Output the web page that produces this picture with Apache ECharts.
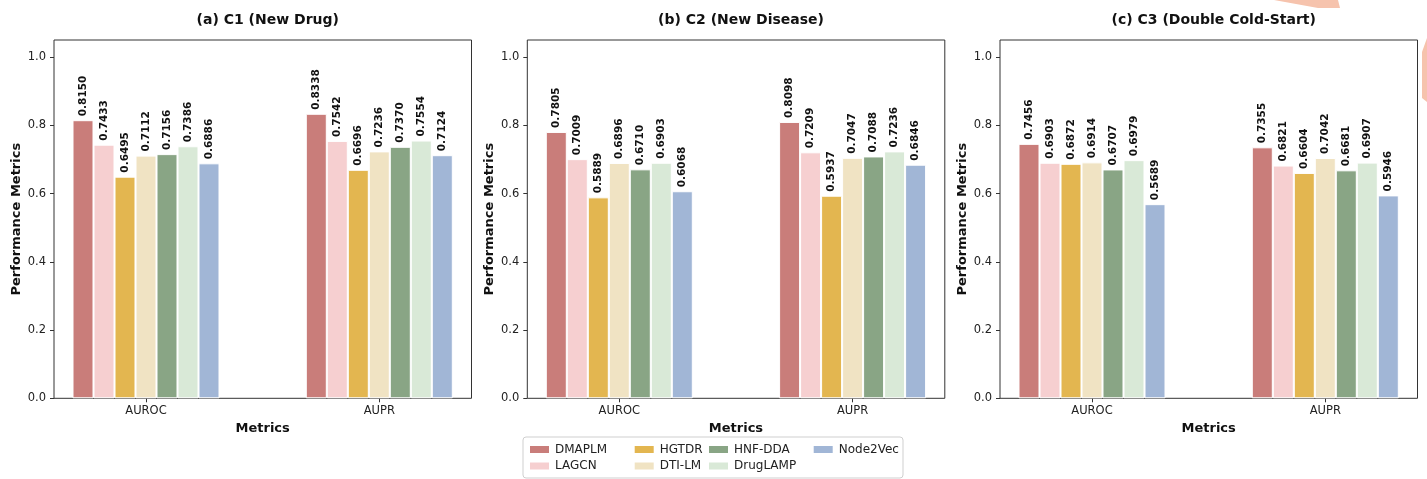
<!DOCTYPE html>
<html>
<head>
<meta charset="utf-8">
<script src="https://cdn.jsdelivr.net/npm/echarts@6/dist/echarts.min.js"></script>
<style>
html,body{margin:0;padding:0;background:#fff;}
#chart{width:1427px;height:479px;}
</style>
</head>
<body>
<div id="chart"></div>
<script>
// ---- data ----
const categories = ['AUROC', 'AUPR'];
const models = ['DMAPLM', 'LAGCN', 'HGTDR', 'DTI-LM', 'HNF-DDA', 'DrugLAMP', 'Node2Vec'];
const colors = ['#c97d7a', '#f6cfd0', '#e3b650', '#f0e3c3', '#89a585', '#d9e9d7', '#a1b6d6'];
const panelTitles = ['(a) C1 (New Drug)', '(b) C2 (New Disease)', '(c) C3 (Double Cold-Start)'];
const yTicks = [0, 0.2, 0.4, 0.6, 0.8, 1.0];
// values per model: [AUROC, AUPR]
const c1Values = [[0.8150, 0.8338], [0.7433, 0.7542], [0.6495, 0.6696], [0.7112, 0.7236], [0.7156, 0.7370], [0.7386, 0.7554], [0.6886, 0.7124]];
const c2Values = [[0.7805, 0.8098], [0.7009, 0.7209], [0.5889, 0.5937], [0.6896, 0.7047], [0.6710, 0.7088], [0.6903, 0.7236], [0.6068, 0.6846]];
const c3Values = [[0.7456, 0.7355], [0.6903, 0.6821], [0.6872, 0.6604], [0.6914, 0.7042], [0.6707, 0.6681], [0.6979, 0.6907], [0.5689, 0.5946]];
const panelValues = [c1Values, c2Values, c3Values];

// ---- layout ----
const FONT = 'DejaVu Sans';
const panelLeft = [54, 527.3, 1000];
const panelWidth = 417.5;
const plotTop = 40;
const plotHeight = 358.3;
const catOffset = 92;     // distance from frame left to first category
const catSpan = 233.3;    // distance between the two categories

const grids = [], xAxes = [], yAxes = [], series = [], titles = [];
panelValues.forEach((vals, p) => {
  const L = panelLeft[p];
  // frame grid
  grids.push({left: L, top: plotTop, width: panelWidth, height: plotHeight, show: true, borderColor: '#333', borderWidth: 1, backgroundColor: 'transparent'});
  // bar grid
  grids.push({left: L + catOffset, top: plotTop, width: catSpan, height: plotHeight});
  xAxes.push({gridIndex: 2 * p, type: 'value', min: 0, max: 1, show: false});
  xAxes.push({
    gridIndex: 2 * p + 1, type: 'category', data: categories, boundaryGap: false,
    axisLine: {show: false},
    axisTick: {show: true, length: 4, alignWithLabel: true, lineStyle: {color: '#333'}},
    axisLabel: {color: '#222', fontFamily: FONT, fontSize: 11.5, margin: 7},
    name: 'Metrics', nameLocation: 'middle', nameGap: 24,
    nameTextStyle: {color: '#111', fontFamily: FONT, fontSize: 13, fontWeight: 'bold'}
  });
  yAxes.push({
    gridIndex: 2 * p, type: 'value', min: 0, max: 1.05,
    axisLine: {show: false},
    axisTick: {show: true, length: 4, customValues: yTicks, lineStyle: {color: '#333'}},
    axisLabel: {color: '#222', fontFamily: FONT, fontSize: 11.5, margin: 8, customValues: yTicks, formatter: v => v.toFixed(1)},
    splitLine: {show: false},
    name: 'Performance Metrics', nameLocation: 'middle', nameGap: 31,
    nameTextStyle: {color: '#111', fontFamily: FONT, fontSize: 13, fontWeight: 'bold'}
  });
  yAxes.push({gridIndex: 2 * p + 1, type: 'value', min: 0, max: 1.05, show: false});
  titles.push({
    text: panelTitles[p], left: L + panelWidth / 2, top: 8, textAlign: 'center',
    textStyle: {fontFamily: FONT, fontSize: 14, fontWeight: 'bold', color: '#111'}
  });
  models.forEach((m, i) => {
    series.push({
      type: 'bar', name: m, xAxisIndex: 2 * p + 1, yAxisIndex: 2 * p + 1,
      data: vals[i], barWidth: 21, barGap: '0%', clip: false,
      itemStyle: {color: colors[i], borderColor: '#fff', borderWidth: 1},
      label: {
        show: true, position: 'top', rotate: 90, align: 'left', verticalAlign: 'middle', distance: 4,
        formatter: d => d.value.toFixed(4),
        fontFamily: FONT, fontSize: 10.5, fontWeight: 'bold', color: '#111'
      },
      emphasis: {disabled: true}
    });
  });
});

const legendCols = [[0, 1], [2, 3], [4, 5], [6]];
const legendX = [528, 632.7, 707, 811.7];
const legends = legendCols.map((col, c) => ({
  orient: 'vertical', left: legendX[c], top: 443.5, padding: 0,
  itemWidth: 21, itemHeight: 9, itemGap: 4.5, icon: 'rect',
  selectedMode: false,
  data: col.map(i => models[i]),
  textStyle: {fontFamily: FONT, fontSize: 12, color: '#222', lineHeight: 12}
}));

const chart = echarts.init(document.getElementById('chart'));
chart.setOption({
  animation: false,
  color: colors,
  title: titles,
  grid: grids,
  xAxis: xAxes,
  yAxis: yAxes,
  legend: legends,
  series: series,
  graphic: [
    {type: 'rect', shape: {x: 523, y: 437, width: 380, height: 41, r: 3}, style: {fill: '#fff', stroke: '#cfcfcf', lineWidth: 1}, z: -1},
    {type: 'polygon', shape: {points: [[1274, 0], [1338, 0], [1340, 8], [1318, 8]]}, style: {fill: '#f6c3ad'}, z: -2},
    {type: 'polygon', shape: {points: [[1427, 38], [1427, 102], [1422, 98], [1422, 52]]}, style: {fill: '#f6c3ad'}, z: -2}
  ]
});
</script>
</body>
</html>
